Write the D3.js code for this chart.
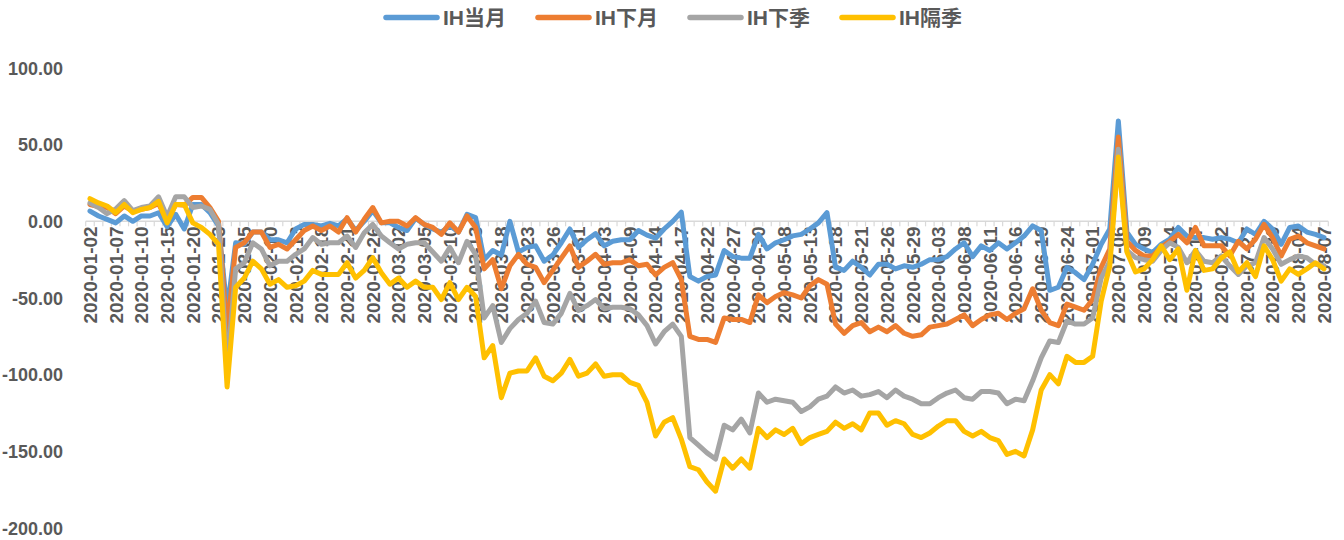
<!DOCTYPE html>
<html>
<head>
<meta charset="utf-8">
<script src="https://cdn.jsdelivr.net/npm/d3@7"></script>
<style>
  html, body { margin: 0; padding: 0; background: #ffffff; }
  svg { display: block; }
  text { font-family: "Liberation Sans", Arial, "Noto Sans CJK SC", sans-serif; font-weight: bold; fill: #595959; }
</style>
</head>
<body>
<svg id="chart" width="1344" height="540"></svg>
<script>
const dates = [
  "2020-01-02","2020-01-03","2020-01-06","2020-01-07","2020-01-08","2020-01-09","2020-01-10","2020-01-13","2020-01-14","2020-01-15","2020-01-16","2020-01-17","2020-01-20","2020-01-21","2020-01-22","2020-01-23",
  "2020-02-03","2020-02-04","2020-02-05","2020-02-06","2020-02-07","2020-02-10","2020-02-11","2020-02-12","2020-02-13","2020-02-14","2020-02-17","2020-02-18","2020-02-19","2020-02-20","2020-02-21","2020-02-24","2020-02-25","2020-02-26","2020-02-27","2020-02-28",
  "2020-03-02","2020-03-03","2020-03-04","2020-03-05","2020-03-06","2020-03-09","2020-03-10","2020-03-11","2020-03-12","2020-03-13","2020-03-16","2020-03-17","2020-03-18","2020-03-19","2020-03-20","2020-03-23","2020-03-24","2020-03-25","2020-03-26","2020-03-27","2020-03-30","2020-03-31",
  "2020-04-01","2020-04-02","2020-04-03","2020-04-07","2020-04-08","2020-04-09","2020-04-10","2020-04-13","2020-04-14","2020-04-15","2020-04-16","2020-04-17","2020-04-20","2020-04-21","2020-04-22","2020-04-23","2020-04-24","2020-04-27","2020-04-28","2020-04-29","2020-04-30",
  "2020-05-06","2020-05-07","2020-05-08","2020-05-11","2020-05-12","2020-05-13","2020-05-14","2020-05-15","2020-05-18","2020-05-19","2020-05-20","2020-05-21","2020-05-22","2020-05-25","2020-05-26","2020-05-27","2020-05-28","2020-05-29",
  "2020-06-01","2020-06-02","2020-06-03","2020-06-04","2020-06-05","2020-06-08","2020-06-09","2020-06-10","2020-06-11","2020-06-12","2020-06-15","2020-06-16","2020-06-17","2020-06-18","2020-06-19","2020-06-22","2020-06-23","2020-06-24","2020-06-29","2020-06-30",
  "2020-07-01","2020-07-02","2020-07-03","2020-07-06","2020-07-07","2020-07-08","2020-07-09","2020-07-10","2020-07-13","2020-07-14","2020-07-15","2020-07-16","2020-07-17","2020-07-20","2020-07-21","2020-07-22","2020-07-23","2020-07-24","2020-07-27","2020-07-28","2020-07-29","2020-07-30","2020-07-31",
  "2020-08-03","2020-08-04","2020-08-05","2020-08-06","2020-08-07"
];

const seriesNames = ["IH当月", "IH下月", "IH下季", "IH隔季"];

const ihCurrent = [
  6.7,3.5,1.3,-1,3.5,0,3.5,3.5,5.6,-3.5,4.6,-5,11,11,5.6,-3,
  -58,-14,-15,-7,-7,-12,-12,-14,
  -5,-2,-2,-3,-1.3,-3,1.7,-6,0,7,-1,-1,-4,-6,2,-2,-5,-7,-3,-7,4.6,2.4,-25,-19,-22,0,
  -20,-17,-16,-26,-22,-14,-5,-17,-12,-8,-16,-13,-12,-12,-6,-9,-11,-5,0,6,-36,-39,-36,-35,
  -19,-23,-24,-24,-8.5,-18,-14,-12,-9.5,-8.5,-5,-1,5.7,-30,-32,-26,-30,-35,-28,-28,-31,-29,-30,-28,-25,
  -25,-23,-18,-14,-23,-16,-19,-14,-18,-14,-9.6,-3,-6,-45,-43,-30,-33.5,-38,-28,-15,-5,65.4,
  -7,-15,-18,-20.4,-15,-11.7,-4,-9.6,-10.6,-10.6,-11.7,-10.6,-11.7,-14,-5,-8.5,0,-5,-15,-4,-3,-7,-8.5,-10.6
];

const ihNext = [
  11,9.6,9,5,10,6.7,7.8,9,11.7,0,11,10.4,15.6,15.6,9,0,
  -72,-17,-14,-7,-7,-17,-15,-18,
  -12,-6,-3,-6,-3,-7,2.4,-7,1.3,9,-1,0,0,-3,2.4,-2,-4,-8.5,-1,-7,3.5,-4,-31,-25,-44,-29,
  -21.5,-28,-30,-40,-32,-24,-16,-30,-26,-21.5,-28,-27,-27,-25,-29,-28,-35,-30,-27,-38,-75,-77,-77,-79,
  -63,-64,-64,-66,-48,-53,-49,-46.5,-48,-50,-42,-38,-41,-67,-73,-68,-66,-72,-69,-72,-68,-73,-75,-74,-69,
  -68,-67,-64,-61,-68,-64,-61,-60,-64,-60,-57,-44,-58,-66,-68,-54,-56,-58,-51,-30,-18,55,
  -13,-19,-22.6,-22.6,-17,-13,-8.5,-14,-4,-16,-16,-16,-22.6,-13,-18,-11.7,-2,-10.6,-22.6,-11.7,-9.6,-14,-16,-18
];

const ihNextQuarter = [
  12,9,5,8,13.5,7,9,10,16,3,16,16,9,10,7.8,-2,
  -95,-31,-27,-14,-18,-29,-26,-26,
  -21.5,-18,-10.6,-15,-14,-14,-9.6,-17,-7.4,-2,-9.6,-14,-18,-15,-14,-14,-20,-26,-17,-27,-13,-21.5,-63,-55,-79,-70,
  -64,-60,-52,-66,-67,-60,-47,-58,-55,-51,-57,-56,-56,-57,-61,-68,-80,-72,-67,-75,-141,-146,-151,-155,
  -133,-136,-129,-138,-112,-118,-116,-117,-118,-124,-121,-116,-114,-108,-112,-110,-114,-113,-111,-115,-110,-114,-116,-119,-119,
  -115,-112,-110,-115,-116,-111,-111,-112,-119,-116,-117,-104,-89,-78,-79,-65,-67,-67,-63,-37,-26,47,
  -19,-23.7,-25,-26,-19,-14,-17,-27,-19,-26,-27,-22.6,-29,-34.6,-29,-27,-10.6,-18,-28,-25,-22.6,-23.7,-28,-29
];

const ihFarQuarter = [
  14.8,12,10,5.6,11,5.6,7.8,9,13,-1,11,11,-1,-4,-8.5,-15,
  -108,-43,-37,-26,-31,-41,-38,-43,
  -42,-39,-32,-34.6,-34.6,-34.6,-27,-37,-32,-23.7,-33.5,-41,-37,-43,-39,-43,-43,-51,-40,-51,-43,-49,-89,-81,-115,-99,
  -97.6,-97.6,-89,-101,-104,-99,-90,-101,-99,-93,-101,-100,-100,-105,-107,-118,-140,-131,-128,-142,-160,-162,-170,-176,
  -155,-161,-155,-161,-135,-141,-136,-139,-135,-145,-141,-139,-137,-131,-135,-132,-136,-125,-125,-133,-130,-132,-139,-141,-138,
  -133.5,-130,-130,-137,-140,-137,-141,-143,-152,-150,-153,-136,-110,-100,-106,-88,-92,-92,-88,-52,-29,42,
  -20,-33,-31,-25,-16,-25,-18,-45,-19,-32,-31,-24,-20,-33,-27,-36,-16,-25,-39,-31,-34.6,-31,-27,-31
];

const yTicks = [100, 50, 0, -50, -100, -150, -200];
const xTickLabels = dates.filter((d, i) => i % 3 === 0);
const colors = ["#5B9BD5", "#ED7D31", "#A5A5A5", "#FFC000"];

const allSeries = [ihCurrent, ihNext, ihNextQuarter, ihFarQuarter];

const svg = d3.select("#chart");

const x = d3.scaleBand().domain(dates).range([85.7, 1328.3]).paddingInner(0).paddingOuter(0);
const cx = d => x(d) + x.bandwidth() / 2;
const y = d3.scaleLinear().domain([-200, 100]).range([528, 68]);

// Y axis labels
const yAxis = d3.axisLeft(y).tickValues(yTicks).tickSize(0).tickPadding(0)
  .tickFormat(d => d.toFixed(2));
const gy = svg.append("g").attr("transform", "translate(63,0)").call(yAxis);
gy.select(".domain").remove();
gy.selectAll("text").attr("font-size", 18).attr("dy", "0.35em")
  .style("font-family", '"Liberation Sans", Arial, sans-serif').style("font-weight", "bold").style("fill", "#595959");

// X axis at zero
const y0 = y(0);
const gx = svg.append("g").attr("transform", `translate(0,${y0})`);
gx.append("line").attr("x1", x.range()[0]).attr("x2", x.range()[1]).attr("y1", 0).attr("y2", 0)
  .attr("stroke", "#d9d9d9").attr("stroke-width", 1.5);
const boundaries = dates.map(d => x(d)).concat([x.range()[1]]);
gx.selectAll("line.tk").data(boundaries).enter().append("line").attr("class", "tk")
  .attr("x1", d => d).attr("x2", d => d).attr("y1", 0).attr("y2", 5)
  .attr("stroke", "#d9d9d9").attr("stroke-width", 1.2);

const xAxis = d3.axisBottom(x).tickValues(xTickLabels).tickSize(0).tickPadding(0);
const gxl = svg.append("g").attr("transform", `translate(0,${y0})`).call(xAxis);
gxl.select(".domain").remove();
gxl.selectAll("text")
  .attr("font-size", 19)
  .attr("transform", "rotate(-90)")
  .attr("text-anchor", "end")
  .attr("x", -5).attr("y", 0).attr("dy", "0.36em")
  .style("font-family", '"Liberation Sans", Arial, sans-serif').style("font-weight", "bold").style("fill", "#595959");

// Lines
const line = d3.line().x((v, i) => cx(dates[i])).y(v => y(v)).curve(d3.curveLinear);
allSeries.forEach((s, k) => {
  svg.append("path").datum(s)
    .attr("d", line)
    .attr("fill", "none")
    .attr("stroke", colors[k])
    .attr("stroke-width", 5)
    .attr("stroke-linejoin", "round")
    .attr("stroke-linecap", "round");
});

// Legend
const lg = svg.append("g").attr("class", "legend");
const legendX = d3.scaleLinear().domain([0, 1]).range([386, 538]);
seriesNames.forEach((name, k) => {
  const gx0 = legendX(k);
  lg.append("line").attr("x1", gx0).attr("x2", gx0 + 51).attr("y1", 17.5).attr("y2", 17.5)
    .attr("stroke", colors[k]).attr("stroke-width", 5.5).attr("stroke-linecap", "round");
  lg.append("text").attr("x", gx0 + 57).attr("y", 17.5).attr("dy", "0.35em")
    .attr("font-size", 21).text(name);
});
</script>
</body>
</html>
